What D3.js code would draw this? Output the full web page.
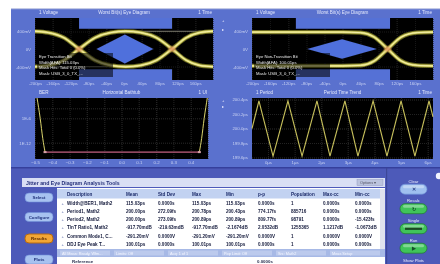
<!DOCTYPE html>
<html lang="en">
<head>
<meta charset="utf-8">
<title>Jitter and Eye Diagram Analysis</title>
<script src="https://cdn.jsdelivr.net/npm/d3@7"></script>
<style>
  body { margin: 0; background: #ffffff; }
  svg { display: block; font-family: "Liberation Sans", Arial, sans-serif; }
</style>
</head>
<body>
<svg id="chart" width="440" height="264"></svg>
<script>
// ---------- data ----------
// left eye (transition bits), time in ps, voltage in mV
var eyeTimeL   = [-200, -170, -135, -101, -65, -30, 4, 38, 73, 108, 140, 170, 200];
var eyeRiseFall = [-400, -370, -255, 0, 255, 370, 400, 370, 255, 0, -255, -370, -400];
var eyeFallRise = [400, 370, 255, 0, -255, -370, -400, -370, -255, 0, 255, 370, 400];
var eyeRiseHold = [-400, -370, -255, 0, 255, 370, 400, 400, 400, 400, 400, 400, 400];
var eyeLowRise  = [-400, -400, -400, -400, -400, -400, -400, -370, -255, 0, 255, 370, 400];
var eyeCrossL  = [-101, 108];

// right eye (non-transition bits)
var eyeTimeR  = [-200, -150, -100, -50, 0, 40, 70, 100, 130, 165, 200];
var eyeHighFall = [380, 380, 380, 380, 380, 370, 270, 0, -270, -370, -380];
var eyeLowRiseR = [-380, -380, -380, -380, -380, -370, -270, 0, 270, 370, 380];
var eyeCrossR = [100];

// eye masks
var maskBandL = [-101, 108];
var maskBandR = [-103, 105];
var maskBandV = [460, 700];
var maskDiamondLT = [-62, 2, 66, 2];
var maskDiamondLV = [0, 330, 0, -330];
var maskDiamondRT = [-78, -1, 76, -1];
var maskDiamondRV = [0, 220, 0, -220];

var eyeXTicks = [-200, -160, -120, -80, -40, 0, 40, 80, 120, 160];
var eyeYTicks = [400, 0, -400];

// bathtub, x in UI, y in log10(BER)
var bathLeftX  = [-0.488, -0.47, -0.455, -0.442];
var bathLeftY  = [-1, -6, -11, -14.3];
var bathRightX = [0.45, 0.463, 0.478, 0.496];
var bathRightY = [-14.3, -11, -6, -1];
var bathFloorX = [-0.442, 0.45];
var bathFloorY = -14.3;
var bathXTicks = [-0.5, -0.4, -0.3, -0.2, -0.1, 0, 0.1, 0.2, 0.3, 0.4];
var bathYTicks = [-6, -12];

// period time trend, x in us, y in ps
var trendT = [-0.6, -0.34, 0.19, 0.75, 1.28, 1.84, 2.33, 2.89, 3.38, 3.95, 4.47, 5.0, 5.52, 6.05, 6.2];
var trendV = [200.0, 200.38, 199.62, 200.38, 199.62, 200.38, 199.62, 200.38, 199.62, 200.38, 199.62, 200.38, 199.62, 200.38, 200.16];
var trendXTicks = [0, 1, 2, 3, 4, 5, 6];
var trendYTicks = [200.4, 200.2, 200.0, 199.8, 199.6];

// results table
var tableCols = ["Description", "Mean", "Std Dev", "Max", "Min", "p-p", "Population", "Max-cc", "Min-cc"];
var colDesc = ["Width@BER1, Math2", "Period1, Math2", "Period2, Math2", "T/nT Ratio1, Math2", "Common Mode1, C...", "DDJ Eye Peak T..."];
var colMean = ["115.03ps", "200.00ps", "200.00ps", "-917.70mdB", "-291.20mV", "100.01ps"];
var colStd  = ["0.0000s", "272.09fs", "273.09fs", "-219.63mdB", "0.0000V", "0.0000s"];
var colMax  = ["115.03ps", "200.78ps", "200.89ps", "-917.70mdB", "-291.20mV", "100.01ps"];
var colMin  = ["115.03ps", "200.43ps", "200.89ps", "-2.1674dB", "-291.20mV", "100.01ps"];
var colPP   = ["0.0000s", "774.17fs", "809.77fs", "2.0532dB", "0.0000V", "0.0000s"];
var colPop  = ["1", "885716", "98791", "1255365", "1", "1"];
var colMaxCC = ["0.0000s", "0.0000s", "0.0000s", "1.1217dB", "0.0000V", "0.0000s"];
var colMinCC = ["0.0000s", "0.0000s", "-15.423fs", "-1.0673dB", "0.0000V", "0.0000s"];

var leftButtons = ["Select", "Configure", "Results", "Plots"];
var rightButtons = ["Clear", "Recalc", "Single", "Run"];

// ---------- drawing ----------
var svg = d3.select("#chart");
var defs = svg.append("defs");
defs.append("filter").attr("id", "soft")
  .append("feGaussianBlur").attr("stdDeviation", 0.35);
defs.append("filter").attr("id", "glow")
  .append("feGaussianBlur").attr("stdDeviation", 1.2);

var root = svg.append("g").attr("filter", "url(#soft)");

var panelBlue = "#5a71ce";
root.append("rect").attr("x", 11).attr("y", 8).attr("width", 429).attr("height", 256).attr("fill", panelBlue);
root.append("rect").attr("x", 11).attr("y", 8).attr("width", 429).attr("height", 1.2).attr("fill", "#c3cae6");

var labelColor = "#c8d1f2";

function styleAxis(s, size) {
  s.select(".domain").remove();
  s.attr("font-size", size || 4.4).attr("font-family", "Liberation Sans, Arial, sans-serif");
  s.selectAll("text").attr("fill", labelColor);
}

// builds the black plot area, grid, tick labels and titles
function panel(p) {
  var g = root.append("g");
  g.append("rect").attr("x", p.x0).attr("y", p.y0)
    .attr("width", p.x1 - p.x0).attr("height", p.y1 - p.y0).attr("fill", "#050505");

  var gridColor = p.gridColor || "#3b3b3b";
  g.append("g").attr("transform", "translate(0," + p.y1 + ")")
    .call(d3.axisBottom(p.x).tickValues(p.gridX).tickSize(-(p.y1 - p.y0)).tickFormat(""))
    .call(function (s) {
      s.select(".domain").remove();
      s.selectAll("line").attr("stroke", gridColor).attr("stroke-width", 0.6).attr("stroke-dasharray", "1,1");
    });
  g.append("g").attr("transform", "translate(" + p.x0 + ",0)")
    .call(d3.axisLeft(p.y).tickValues(p.gridY).tickSize(-(p.x1 - p.x0)).tickFormat(""))
    .call(function (s) {
      s.select(".domain").remove();
      s.selectAll("line").attr("stroke", gridColor).attr("stroke-width", 0.6).attr("stroke-dasharray", "1,1");
    });

  // tick labels
  g.append("g").attr("transform", "translate(0," + (p.y1 + 1.2) + ")")
    .call(d3.axisBottom(p.x).tickValues(p.xTicks).tickSize(0).tickPadding(1).tickFormat(p.xFmt))
    .call(styleAxis);
  g.append("g").attr("transform", "translate(" + p.x0 + ",0)")
    .call(d3.axisLeft(p.y).tickValues(p.yTicks).tickSize(0).tickPadding(4).tickFormat(p.yFmt))
    .call(styleAxis);

  // titles
  var ty = p.y0 - 4;
  g.append("text").attr("x", p.x0 + 4).attr("y", ty).attr("font-size", 4.6)
    .attr("fill", "#e2e7fb").text(p.left);
  g.append("text").attr("x", (p.x0 + p.x1) / 2).attr("y", ty).attr("font-size", 4.6)
    .attr("text-anchor", "middle").attr("fill", "#e2e7fb").text(p.title);
  g.append("text").attr("x", p.x1 - 1).attr("y", ty).attr("font-size", 4.6)
    .attr("text-anchor", "end").attr("fill", "#e2e7fb").text(p.right);
  return g;
}

var psFmt = function (d) { return d + "ps"; };
var mvFmt = function (d) { return d === 0 ? "0V" : d + "mV"; };

// ----- eye diagrams -----
function eyePanel(cfg) {
  var x = d3.scaleLinear().domain([-200, 200]).range([cfg.x0, cfg.x1]);
  var y = d3.scaleLinear().domain([-700, 700]).range([80, 18]);
  var g = panel({
    x0: cfg.x0, x1: cfg.x1, y0: 18, y1: 80, x: x, y: y,
    gridX: d3.range(-200, 201, 40), gridY: [-400, 400], gridColor: "#242424",
    xTicks: eyeXTicks, yTicks: eyeYTicks, xFmt: psFmt, yFmt: mvFmt,
    left: "1 Voltage", title: "Worst Bit(s) Eye Diagram", right: "1 Time"
  });
  var clipId = "clip" + cfg.x0;
  defs.append("clipPath").attr("id", clipId).append("rect")
    .attr("x", cfg.x0).attr("y", 18).attr("width", cfg.x1 - cfg.x0).attr("height", 62);
  var body = g.append("g").attr("clip-path", "url(#" + clipId + ")");

  // mask regions
  var poly = d3.line().x(function (d) { return x(d[0]); }).y(function (d) { return y(d[1]); });
  var b = cfg.band;
  [[maskBandV[0], maskBandV[1]], [-maskBandV[1], -maskBandV[0]]].forEach(function (v) {
    body.append("path").attr("fill", "#5471d6")
      .attr("d", poly([[b[0], v[0]], [b[1], v[0]], [b[1], v[1]], [b[0], v[1]]]) + "Z");
  });
  var dia = cfg.diaT.map(function (t, i) { return [t, cfg.diaV[i]]; });
  body.append("path").attr("fill", "#4f6fdc").attr("d", poly(dia) + "Z");

  var line = d3.line().curve(d3.curveMonotoneX)
    .x(function (d) { return x(d[0]); }).y(function (d) { return y(d[1]); });

  cfg.thin.forEach(function (vals) {
    var pts = cfg.t.map(function (t, i) { return [t, vals[i]]; });
    body.append("path").attr("d", line(pts)).attr("fill", "none")
      .attr("stroke", "#b9b8a0").attr("stroke-width", 0.8).attr("opacity", 0.8);
  });
  cfg.thick.forEach(function (vals) {
    var pts = cfg.t.map(function (t, i) { return [t, vals[i]]; });
    body.append("path").attr("d", line(pts)).attr("fill", "none")
      .attr("stroke", "#8f8d2c").attr("stroke-width", 4.2).attr("opacity", 0.75);
    body.append("path").attr("d", line(pts)).attr("fill", "none")
      .attr("stroke", "#dcd86a").attr("stroke-width", 2.4);
    body.append("path").attr("d", line(pts)).attr("fill", "none")
      .attr("stroke", "#f7f3b8").attr("stroke-width", 0.8);
  });
  cfg.cross.forEach(function (t) {
    body.append("ellipse").attr("cx", x(t)).attr("cy", y(0)).attr("rx", 3.5).attr("ry", 2.6)
      .attr("fill", "#e0895a").attr("opacity", 0.75).attr("filter", "url(#glow)");
  });

  // measurement readout box
  var bx = cfg.x0 + 2, by = 53;
  body.append("rect").attr("x", bx).attr("y", by).attr("width", 76).attr("height", 24)
    .attr("fill", "#000").attr("opacity", 0.55);
  cfg.notes.forEach(function (n, i) {
    body.append("text").attr("x", bx + 2).attr("y", by + 5 + i * 5.6).attr("font-size", 4.2)
      .attr("fill", "#e6e6e6").text(n);
  });
}

eyePanel({
  x0: 35, x1: 213, band: maskBandL, diaT: maskDiamondLT, diaV: maskDiamondLV,
  t: eyeTimeL, thick: [eyeRiseFall, eyeFallRise], thin: [eyeRiseHold, eyeLowRise], cross: eyeCrossL,
  notes: ["Eye Transition Bit", "Width[AFA]: 115.03ps", "Mask Hits: Total 0 (0.0%)", "Mask: USB_3_0_TX_..."]
});
eyePanel({
  x0: 252, x1: 433, band: maskBandR, diaT: maskDiamondRT, diaV: maskDiamondRV,
  t: eyeTimeR, thick: [eyeHighFall, eyeLowRiseR], thin: [], cross: eyeCrossR,
  notes: ["Eye Non-Transition Bit", "Width[AFA]: 100.01ps", "Mask Hits: Total 0 (0.0%)", "Mask: USB_3_0_TX_..."]
});

// ----- bathtub -----
(function () {
  var x = d3.scaleLinear().domain([-0.5, 0.5]).range([35, 208]);
  var y = d3.scaleLinear().domain([-1, -16]).range([98, 159]);
  var g = panel({
    x0: 35, x1: 208, y0: 98, y1: 159, x: x, y: y,
    gridX: d3.range(-0.5, 0.51, 0.1), gridY: [-3.5, -6, -12],
    xTicks: bathXTicks, yTicks: bathYTicks,
    xFmt: function (d) { return d3.format(".1f")(d); },
    yFmt: function (d) { return "1E" + d; },
    left: "BER", title: "Horizontal Bathtub", right: "1 UI"
  });
  var line = d3.line().curve(d3.curveMonotoneX)
    .x(function (d) { return x(d[0]); }).y(function (d) { return y(d[1]); });
  g.append("line").attr("x1", x(bathFloorX[0])).attr("x2", x(bathFloorX[1]))
    .attr("y1", y(bathFloorY)).attr("y2", y(bathFloorY))
    .attr("stroke", "#c05c80").attr("stroke-width", 1.3);
  [[bathLeftX, bathLeftY], [bathRightX, bathRightY]].forEach(function (c) {
    var pts = c[0].map(function (v, i) { return [v, c[1][i]]; });
    g.append("path").attr("d", line(pts)).attr("fill", "none")
      .attr("stroke", "#d8d26a").attr("stroke-width", 1);
  });
  bathFloorX.forEach(function (v) {
    g.append("rect").attr("x", x(v) - 1.5).attr("y", y(bathFloorY) - 1).attr("width", 3).attr("height", 2)
      .attr("fill", "#d6a0a8");
  });
})();

// ----- period time trend -----
(function () {
  var x = d3.scaleLinear().domain([-0.6, 6.2]).range([252, 433]);
  var y = d3.scaleLinear().domain([199.58, 200.42]).range([159, 98]);
  var g = panel({
    x0: 252, x1: 433, y0: 98, y1: 159, x: x, y: y,
    gridX: trendXTicks, gridY: trendYTicks,
    xTicks: trendXTicks, yTicks: trendYTicks,
    xFmt: function (d) { return d + "\u00b5s"; },
    yFmt: function (d) { return d3.format(".1f")(d) + "ps"; },
    left: "1 Period", title: "Period Time Trend", right: "1 Time"
  });
  var line = d3.line().x(function (d, i) { return x(trendT[i]); }).y(function (d) { return y(d); });
  g.append("path").attr("d", line(trendV)).attr("fill", "none")
    .attr("stroke", "#c9c25c").attr("stroke-width", 1.1);
})();

// channel markers between the panels
[[222, 22], [222, 31], [222, 102], [222, 108]].forEach(function (m, i) {
  root.append("text").attr("x", m[0]).attr("y", m[1]).attr("font-size", 4)
    .attr("fill", "#eef").text(i % 2 ? "\u25b8" : "+");
});

// ----- analysis tool panel -----
root.append("rect").attr("x", 11).attr("y", 167).attr("width", 429).attr("height", 97).attr("fill", "#4e5ab9");
root.append("rect").attr("x", 11).attr("y", 167).attr("width", 429).attr("height", 1.5).attr("fill", "#36409c");

// title bar
root.append("rect").attr("x", 22).attr("y", 178).attr("width", 363).attr("height", 9).attr("fill", "#d9dff4");
root.append("text").attr("x", 26).attr("y", 184.6).attr("font-size", 5.2).attr("font-weight", "bold")
  .attr("fill", "#25307a").text("Jitter and Eye Diagram Analysis Tools");
root.append("rect").attr("x", 357).attr("y", 179.5).attr("width", 26).attr("height", 6)
  .attr("fill", "#bcc4de").attr("stroke", "#8890b8").attr("stroke-width", 0.4);
root.append("text").attr("x", 360).attr("y", 184).attr("font-size", 3.8).attr("fill", "#556").text("Options \u25be");

// table
var tx0 = 57, tx1 = 385;
root.append("rect").attr("x", tx0).attr("y", 188).attr("width", tx1 - tx0).attr("height", 76).attr("fill", "#ffffff");
root.append("rect").attr("x", tx0).attr("y", 189).attr("width", tx1 - tx0 - 5).attr("height", 9.5).attr("fill", "#c2d2f1");
root.append("rect").attr("x", tx1 - 5).attr("y", 189).attr("width", 5).attr("height", 60).attr("fill", "#dfe3ee");

var colX = [67, 126, 158, 192, 226, 258, 291, 323, 355];
var cols = [colDesc, colMean, colStd, colMax, colMin, colPP, colPop, colMaxCC, colMinCC];
var rowY = d3.scaleBand().domain(d3.range(colDesc.length)).range([199, 248.5]);

tableCols.forEach(function (c, j) {
  root.append("text").attr("x", colX[j]).attr("y", 195.5).attr("font-size", 4.6)
    .attr("font-weight", "bold").attr("fill", "#1c2b6a").text(c);
});
colDesc.forEach(function (d, i) {
  var yy = rowY(i) + rowY.bandwidth() / 2 + 1.6;
  root.append("text").attr("x", 61.5).attr("y", yy).attr("font-size", 4.4)
    .attr("fill", "#5a6aa8").text("+");
  cols.forEach(function (col, j) {
    root.append("text").attr("x", colX[j]).attr("y", yy).attr("font-size", 4.6)
      .attr("font-weight", "bold").attr("fill", "#141a3c").text(col[i]);
  });
});

// status band and reference row
root.append("rect").attr("x", tx0).attr("y", 249).attr("width", tx1 - tx0).attr("height", 8).attr("fill", "#a7b9e6");
["All Meas: Ready, Wfm...", "Limits: Off", "Acq: 1 of 1", "Pop Limit: Off", "Src: Math2", "Meas Setup"].forEach(function (s, i) {
  root.append("rect").attr("x", 60 + i * 54).attr("y", 250.5).attr("width", 50).attr("height", 5)
    .attr("fill", "#c4d2f0").attr("opacity", 0.7);
  root.append("text").attr("x", 62 + i * 54).attr("y", 254.7).attr("font-size", 3.8)
    .attr("fill", "#f4f6ff").text(s);
});
root.append("text").attr("x", 72).attr("y", 262.5).attr("font-size", 4.4).attr("font-weight", "bold")
  .attr("fill", "#2a3050").text("Reference");
root.append("text").attr("x", 257).attr("y", 262.5).attr("font-size", 4.4).attr("font-weight", "bold")
  .attr("fill", "#2a3050").text("0.0000s");

// left navigation buttons
var leftY = [197.5, 217, 238.5, 259.5];
leftButtons.forEach(function (b, i) {
  var hot = b === "Results";
  root.append("rect").attr("x", 25).attr("y", leftY[i] - 4.5).attr("width", 28).attr("height", 9).attr("rx", 4)
    .attr("fill", hot ? "#f2a634" : "#a7c2f0")
    .attr("stroke", hot ? "#b86a10" : "#6f8ed8").attr("stroke-width", hot ? 1 : 0.6);
  root.append("text").attr("x", 39).attr("y", leftY[i] + 1.6).attr("text-anchor", "middle")
    .attr("font-size", 4.4).attr("font-weight", "bold").attr("fill", hot ? "#5a2a00" : "#1d2f78").text(b);
});

// right control buttons
root.append("rect").attr("x", 386).attr("y", 168).attr("width", 1.2).attr("height", 96).attr("fill", "#3c4698");
var rightY = [189, 208.5, 228.5, 248];
rightButtons.forEach(function (b, i) {
  var cy = rightY[i];
  root.append("text").attr("x", 413.5).attr("y", cy - 6.5).attr("text-anchor", "middle")
    .attr("font-size", 4.2).attr("fill", "#e8ecff").text(b);
  root.append("rect").attr("x", 400).attr("y", cy - 4.8).attr("width", 27).attr("height", 10).attr("rx", 5)
    .attr("fill", i === 0 ? "#9fc0ef" : "#3fc45a")
    .attr("stroke", i === 0 ? "#6d8fd6" : "#1f7a30").attr("stroke-width", 0.7);
  root.append("rect").attr("x", 403).attr("y", cy - 3.8).attr("width", 21).attr("height", 3).attr("rx", 1.5)
    .attr("fill", "#ffffff").attr("opacity", 0.35);
  if (i === 2) {
    root.append("rect").attr("x", 405).attr("y", cy - 0.8).attr("width", 17).attr("height", 2.2)
      .attr("fill", "#1c4a24");
  } else {
    root.append("text").attr("x", 413.5).attr("y", cy + 2.4).attr("text-anchor", "middle")
      .attr("font-size", 5).attr("font-weight", "bold").attr("fill", i === 0 ? "#2a3f88" : "#17502a")
      .text(i === 0 ? "\u2715" : (i === 1 ? "\u21bb" : "\u25b6"));
  }
});
root.append("text").attr("x", 413.5).attr("y", 262).attr("text-anchor", "middle")
  .attr("font-size", 4.2).attr("fill", "#e8ecff").text("Show Plots");
root.append("circle").attr("cx", 439).attr("cy", 176).attr("r", 3.2).attr("fill", "#f2f4ff");
</script>
</body>
</html>
